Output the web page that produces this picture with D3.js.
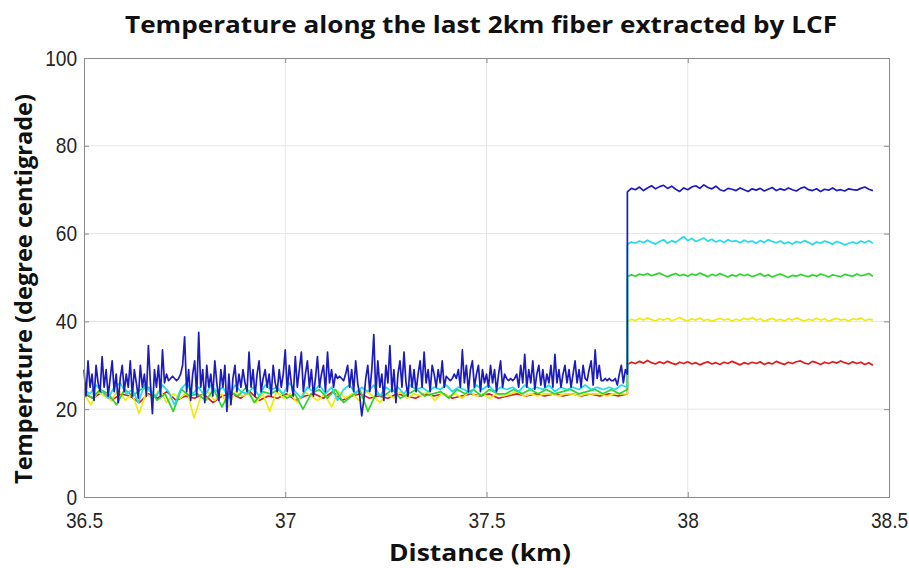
<!DOCTYPE html>
<html>
<head>
<meta charset="utf-8">
<script src="https://cdnjs.cloudflare.com/ajax/libs/d3/7.8.5/d3.min.js"></script>
<style>
	body { margin: 0; background: #fff; }
	svg { display: block; }
</style>
</head>
<body>
<div id="chart"></div>
<script>
// temperature along the fiber........

// axis ticks
var xTicks = [36.5, 37, 37.5, 38, 38.5];
var yTicks = [0, 20, 40, 60, 80, 100];

// where the hot section starts, and the sample spacing after it
var stepKm = 37.85;
var rightStep = 0.01;

// blue trace before the step (dense samples, 0.005 km)
var blueLeft = [
	29, 23, 31, 25, 28, 22, 30, 26, 24, 32,
	25, 29, 23, 27, 31, 24, 28, 21.5, 27, 30,
	24, 28, 25, 31, 23, 29, 26, 22.5, 30, 25,
	28, 23, 34.5, 26, 19, 29, 25, 30, 23, 33.5,
	26, 28, 26.5, 27, 27.5, 27, 26.5, 27, 28, 30,
	36.5, 24, 29, 22, 28, 31, 23, 37.5, 25, 29,
	21.5, 30, 25, 28, 23, 31, 26, 22, 29, 25,
	30, 19.5, 28, 21, 27, 30, 24, 28, 25, 29,
	26, 24, 33, 25, 29, 23, 28, 31, 24, 27,
	29, 25, 28, 23, 30, 26, 24, 29, 25, 28,
	33.5, 24, 30, 26, 23, 32, 25, 29, 33, 24,
	28, 31, 25, 29, 23, 27, 32, 25, 28, 30,
	24, 33, 26, 29, 25, 28, 27, 27.5, 27, 26.5,
	28, 30, 25, 29, 24, 31, 26, 23, 18.5, 22,
	27, 30, 24, 29, 37, 23, 31, 25, 28, 22,
	30, 26, 34.5, 24, 29, 21.5, 28, 31, 25, 33,
	26, 23, 30, 25, 29, 24, 28, 31, 25, 33,
	26, 29, 24, 30, 28, 25, 29, 26, 31, 25,
	27.5, 27, 26.5, 27, 28, 27, 29, 25, 33.5, 26,
	30, 24, 29, 31, 25, 28, 30, 24, 29, 26,
	28, 25, 30, 26, 29, 24, 28, 31, 25, 28,
	27, 26.5, 27, 26.5, 27, 28, 25, 30, 26, 32.5,
	25, 29, 26, 31, 24.5, 28, 30, 25.5, 29, 25,
	28, 26, 30, 25, 32.5, 26, 29, 25, 28, 30,
	26, 29, 25, 28, 31, 26, 29, 25, 30, 27,
	26.5, 29, 31, 25.5, 33.5, 27, 30, 26.5, 26.5, 27,
	26.5, 27, 26.5, 26.5, 27, 25.5, 28, 30, 26, 29,
	28
];

// other traces before the step, each sampled a bit differently
var cyanLeft = [
	24.5, 23.5, 25.5, 24, 22.5, 25, 26, 23.5, 24.5, 21.5, 25.5, 24, 23, 25.5, 24, 21, 24.5, 26, 23.5, 25,
	23, 25.5, 24, 25, 22.5, 25.5, 24, 23.5, 25, 23, 25.5, 24.5, 25, 23.5, 26, 24, 22.5, 25, 24, 25.5,
	23.5, 25, 22, 24.5, 25.5, 23.5, 25, 24, 25.5, 23, 25, 24, 25, 23.5, 25.5, 24.5, 25, 24, 25, 24.5,
	25.5, 24, 25, 24.5, 23.5, 25.5, 24.5, 25.5, 24, 25, 24.5, 25, 24, 25.5, 24.5, 25, 24.5, 25.5, 24, 25,
	24.5, 25, 24.5, 25.5, 24.5, 25, 24.5, 25, 24.5, 25.5, 25
];
var greenLeft = [
	24, 22.5, 24.5, 23.5, 21, 24.5, 23, 24.5, 25, 22, 23.5, 19.5, 24.5, 23, 23.5, 22, 24.5, 20.5, 24, 23,
	25, 21.5, 24, 23.5, 24.5, 22.5, 23.5, 20, 23.5, 24.5, 22.5, 24.5, 21.5, 23, 24.5, 19.5, 23.5, 23, 24.5, 22.5,
	23.5, 24.5, 23, 23.5, 24, 22.5, 24.5, 23.5, 24.5, 23, 24.5, 23.5, 23.5, 24.5, 23.5, 24.5, 23.5, 24.5, 23.5, 24,
	24.5, 23.5, 24, 24.5, 23.5, 24.5, 23.5, 24.5
];
var yellowLeft = [
	23.5, 21, 24, 23, 22, 24.5, 22, 23.5, 19, 23.5, 22.5, 24.5, 21.5, 23.5, 22.5, 24, 18, 23, 24, 22,
	23.5, 20.5, 24, 23, 23.5, 21.5, 23.5, 19.5, 24, 22.5, 23.5, 21.5, 24, 23, 22, 23.5, 20.5, 24, 22.5, 23.5,
	22, 24, 23, 21.5, 23.5, 22.5, 24, 22.5, 23.5, 23, 24, 22, 23.5, 23, 23.5, 22.5, 24, 23, 23.5, 22.5,
	23.5, 23, 23.5, 24, 23, 23.5, 23, 23.5, 23.5, 23, 23.5, 23.5, 23, 23.5, 23.5, 23.5, 23, 23.5, 23.5, 23.5
];
var redLeft = [
	23.5, 22.5, 24, 22, 23.5, 23, 21.5, 23.5, 22.5, 24, 22, 23, 22.5, 23.5, 21.5, 23, 23.5, 22.5, 24, 22,
	23, 22.5, 23.5, 22, 23, 23.5, 22.5, 24, 22, 23, 23.5, 22.5, 23, 22.5, 23.5, 23, 22.5, 23.5, 23, 23.5,
	22.5, 23, 23.5, 23, 23.5, 22.5, 23, 23.5, 23, 23.5, 23, 23.5, 23, 23.5, 23, 23.5, 23, 23.5, 23, 23.5
];

// after the step, 0.01 km apart
var blueRight = [
	69.5, 70.3, 70.0, 70.6, 69.8, 70.4, 70.9, 70.2, 70.7, 71.0, 70.3, 70.8, 70.1, 69.6, 70.4, 70.0, 70.6, 70.9, 70.3, 71.1,
	70.5, 70.2, 70.8, 70.0, 69.7, 70.3, 70.1, 69.8, 70.4, 70.0, 69.6, 70.2, 69.9, 70.3, 69.7, 70.1, 70.5, 69.8, 70.2, 69.9,
	70.4, 70.0, 69.7, 70.3, 70.6, 70.0, 69.8, 70.2, 69.6, 70.1, 69.9, 70.4, 69.8, 70.0, 69.7, 70.2, 70.0, 69.9, 70.3, 70.6,
	70.1, 69.8
];
var cyanRight = [
	57.6, 58.1, 57.8, 58.3, 57.9, 58.5, 58.0, 57.6, 58.2, 58.6, 57.8, 58.4, 58.0, 58.7, 59.3, 58.4, 58.9, 58.2, 58.6, 59.0,
	58.3, 58.7, 58.1, 58.5, 58.0, 58.6, 58.2, 58.4, 57.9, 58.5, 58.1, 58.3, 57.8, 58.4, 58.0, 58.6, 58.2, 57.9, 58.3, 57.7,
	58.1, 57.6, 58.2, 57.9, 58.4, 58.0, 57.5, 58.1, 57.8, 58.3, 58.0, 57.6, 58.2, 57.9, 57.4, 57.8, 58.1, 57.7, 58.3, 57.9,
	58.4, 57.8
];
var greenRight = [
	50.2, 50.6, 50.3, 50.8, 50.5, 50.9, 50.4, 50.7, 51.0, 50.5, 50.2, 50.6, 50.9, 50.4, 50.7, 50.3, 50.8, 50.5, 51.0, 50.6,
	50.2, 50.7, 50.4, 50.9, 50.5, 50.1, 50.6, 50.3, 50.8, 50.4, 50.7, 50.2, 50.5, 50.9, 50.3, 50.6, 50.1, 50.5, 50.8, 50.4,
	50.0, 50.5, 50.3, 50.7, 50.4, 50.2, 50.6, 50.3, 50.8, 50.5, 50.1, 50.6, 50.4, 50.2, 50.7, 50.5, 50.3, 50.8, 50.4, 50.6,
	50.9, 50.3
];
var yellowRight = [
	40.0, 40.5, 40.2, 40.7, 40.3, 40.8, 40.4, 40.1, 40.6, 40.3, 40.7, 40.2, 40.5, 40.9, 40.4, 40.1, 40.6, 40.3, 40.8, 40.2,
	40.5, 40.0, 40.4, 40.7, 40.3, 40.6, 40.1, 40.5, 40.2, 40.7, 40.4, 40.9, 40.3, 40.6, 40.0, 40.4, 40.7, 40.2, 40.5, 40.1,
	40.6, 40.3, 40.8, 40.4, 40.1, 40.5, 40.2, 40.7, 40.3, 40.6, 40.0, 40.4, 40.7, 40.3, 40.5, 40.1, 40.6, 40.4, 40.8, 40.2,
	40.5, 40.3
];
var redRight = [
	30.2, 30.7, 30.4, 30.9, 30.5, 31.1, 30.6, 30.3, 30.8, 30.4, 30.9, 30.5, 30.2, 30.7, 30.4, 30.8, 30.3, 30.6, 30.1, 30.5,
	30.8, 30.3, 30.6, 30.2, 30.7, 30.4, 30.9, 30.5, 30.1, 30.6, 30.3, 30.7, 30.4, 30.8, 30.2, 30.6, 30.3, 30.9, 30.5, 30.2,
	30.7, 30.4, 30.8, 31.0, 30.5, 30.3, 30.9, 30.6, 30.2, 30.7, 30.4, 30.8, 30.5, 31.0, 30.6, 30.3, 30.8, 30.4, 30.7, 30.2,
	30.6, 30.0
];

// drawn in this order, blue ends up on top
var seriesNames = ["red", "yellow", "green", "cyan", "blue"];
var seriesColors = ["#dd1c1c", "#ecec12", "#2cd62c", "#22dce8", "#1c1cbe"];
var leftValues = [redLeft, yellowLeft, greenLeft, cyanLeft, blueLeft];
var rightValues = [redRight, yellowRight, greenRight, cyanRight, blueRight];

var W = 909, H = 568;
var margin = {left: 84, right: 20, top: 58, bottom: 71};

var svg = d3.select("#chart").append("svg")
	.attr("width", W)
	.attr("height", H);

var x = d3.scaleLinear()
	.domain([36.5, 38.5])
	.range([margin.left, W - margin.right]);
var y = d3.scaleLinear()
	.domain([0, 100])
	.range([H - margin.bottom, margin.top]);

// grid first
var grid = svg.append("g").attr("class", "grid");
grid.selectAll("line.gx")
	.data(xTicks.slice(1, -1))
	.enter().append("line")
	.attr("x1", function(d){ return x(d); })
	.attr("x2", function(d){ return x(d); })
	.attr("y1", y(0))
	.attr("y2", y(100))
	.attr("stroke", "#e6e6e6");
grid.selectAll("line.gy")
	.data(yTicks.slice(1, -1))
	.enter().append("line")
	.attr("y1", function(d){ return y(d); })
	.attr("y2", function(d){ return y(d); })
	.attr("x1", x(36.5))
	.attr("x2", x(38.5))
	.attr("stroke", "#e6e6e6");

// build the traces: left part then right part, so the step is one vertical segment
function buildTrace(left, right){
	var pts = [];
	var dl = (stepKm - 36.5) / (left.length - 1);
	left.forEach(function(v, i){
		pts.push([36.5 + i * dl, v]);
	});
	right.forEach(function(v, i){
		pts.push([stepKm + i * rightStep, v]);
	});
	return pts;
}

var line = d3.line()
	.x(function(d){ return x(d[0]); })
	.y(function(d){ return y(d[1]); });

var traces = svg.append("g").attr("class", "traces");
seriesNames.forEach(function(name, i){
	traces.append("path")
		.datum(buildTrace(leftValues[i], rightValues[i]))
		.attr("id", "trace_" + name)
		.attr("fill", "none")
		.attr("stroke", seriesColors[i])
		.attr("stroke-width", 1.7)
		.attr("stroke-linejoin", "round")
		.attr("d", line);
});

// axes, matlab style box with ticks pointing in
var tickFont = "'Liberation Sans', Arial, sans-serif";
var axisColor = "#8a8a8a";

var xAxis = svg.append("g")
	.attr("transform", "translate(0," + y(0) + ")")
	.call(d3.axisBottom(x).tickValues(xTicks).tickSizeInner(-5).tickSizeOuter(0).tickPadding(15)
		.tickFormat(function(d){ return d; }));
var xAxisTop = svg.append("g")
	.attr("transform", "translate(0," + y(100) + ")")
	.call(d3.axisTop(x).tickValues(xTicks).tickSizeInner(-5).tickSizeOuter(0).tickFormat(""));
var yAxis = svg.append("g")
	.attr("transform", "translate(" + x(36.5) + ",0)")
	.call(d3.axisLeft(y).tickValues(yTicks).tickSizeInner(-5).tickSizeOuter(0).tickPadding(8));
var yAxisRight = svg.append("g")
	.attr("transform", "translate(" + x(38.5) + ",0)")
	.call(d3.axisRight(y).tickValues(yTicks).tickSizeInner(-5).tickSizeOuter(0).tickFormat(""));

[xAxis, xAxisTop, yAxis, yAxisRight].forEach(function(a){
	a.selectAll("path").attr("stroke", axisColor);
	a.selectAll("line").attr("stroke", axisColor);
	// narrow-ish digits like the original
	a.selectAll("text")
		.attr("fill", "#262626")
		.attr("transform", "scale(0.87,1)")
		.style("font-family", tickFont)
		.style("font-size", "22px");
});

// titles
var labelFont = "'Open Sans', 'Noto Sans', sans-serif";
svg.append("text")
	.attr("x", 481)
	.attr("y", 33)
	.attr("text-anchor", "middle")
	.attr("textLength", 712)
	.attr("lengthAdjust", "spacingAndGlyphs")
	.style("font-family", labelFont)
	.style("font-weight", "bold")
	.style("font-size", "23px")
	.attr("fill", "#111")
	.text("Temperature along the last 2km fiber extracted by LCF");

svg.append("text")
	.attr("x", 480)
	.attr("y", 561)
	.attr("text-anchor", "middle")
	.attr("textLength", 182)
	.attr("lengthAdjust", "spacingAndGlyphs")
	.style("font-family", labelFont)
	.style("font-weight", "bold")
	.style("font-size", "23px")
	.attr("fill", "#111")
	.text("Distance (km)");

svg.append("text")
	.attr("transform", "translate(32,289) rotate(-90)")
	.attr("text-anchor", "middle")
	.attr("textLength", 390)
	.attr("lengthAdjust", "spacingAndGlyphs")
	.style("font-family", labelFont)
	.style("font-weight", "bold")
	.style("font-size", "23px")
	.attr("fill", "#111")
	.text("Temperature (degree centigrade)");
</script>
</body>
</html>
